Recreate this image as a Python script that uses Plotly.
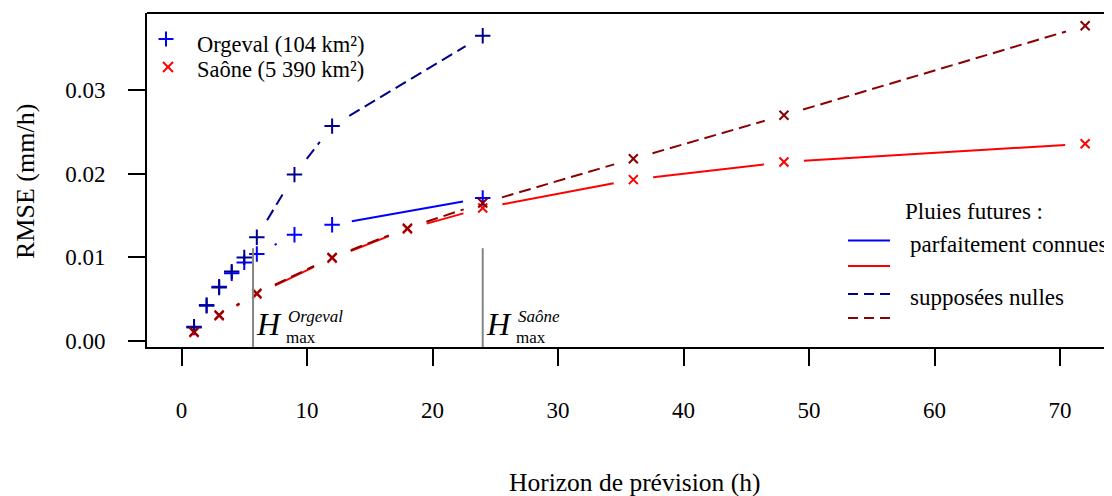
import math
import plotly.graph_objects as go

# ---------------- data ----------------
org_h = [1, 2, 3, 4, 5, 6, 9, 12, 24]
org_known = [0.0016, 0.0043, 0.0065, 0.0081, 0.0094, 0.0104, 0.0127, 0.0139, 0.0171]
org_null = [0.0017, 0.0042, 0.0064, 0.0083, 0.0100, 0.0124, 0.0199, 0.0257, 0.0365]

sao_h = [1, 3, 6, 12, 18, 24, 36, 48, 72]
sao_known = [0.0010, 0.0030, 0.0056, 0.0099, 0.0134, 0.0159, 0.0193, 0.0214, 0.0236]
sao_null = [0.0011, 0.0031, 0.0057, 0.0100, 0.0135, 0.0165, 0.0218, 0.0270, 0.0377]

hmax_names = ["Orgeval", "Saône"]
hmax_vals = [5.7, 24]
hmax_top = 0.0111

x_ticks = [0, 10, 20, 30, 40, 50, 60, 70]
y_ticks = [0.0, 0.01, 0.02, 0.03]
y_ticklabels = ["0.00", "0.01", "0.02", "0.03"]

basin_labels = ["Orgeval (104 km²)", "Saône (5 390 km²)"]
rain_title = "Pluies futures :"
rain_labels = ["parfaitement connues", "supposées nulles"]

# ---------------- layout constants ----------------
OFF = 8  # page body margin
W, H = 1104, 488
ML, MR, MT, MB = 139, 0, 5, 149
PW, PH = W - ML - MR, H - MT - MB
X_RANGE = [-2.75, 74.14]
Y_RANGE = [-0.00072, 0.03923]
FONT = "Liberation Serif"

BLUE, DBLUE, RED, DRED = "#0000FF", "#00008B", "#FF0000", "#8B0000"


def px(xp):
    return (xp - OFF - ML) / PW


def py(yp):
    return (H - MB - (yp - OFF)) / PH


def gapped(xs, ys, r=20.0):
    """Lines between points with a gap around each point (R type='b')."""
    sx = PW / (X_RANGE[1] - X_RANGE[0])
    sy = PH / (Y_RANGE[1] - Y_RANGE[0])
    ox, oy = [], []
    for i in range(len(xs) - 1):
        x0, y0 = xs[i] * sx, ys[i] * sy
        x1, y1 = xs[i + 1] * sx, ys[i + 1] * sy
        d = math.hypot(x1 - x0, y1 - y0)
        if d <= 2 * r:
            continue
        ux, uy = (x1 - x0) / d, (y1 - y0) / d
        ox += [(x0 + r * ux) / sx, (x1 - r * ux) / sx, None]
        oy += [(y0 + r * uy) / sy, (y1 - r * uy) / sy, None]
    return ox, oy


fig = go.Figure()

series = [
    (org_h, org_known, BLUE, "solid", "cross-thin", 11),
    (org_h, org_null, DBLUE, "12px,6px", "cross-thin", 11),
    (sao_h, sao_known, RED, "solid", "x-thin", 9),
    (sao_h, sao_null, DRED, "12px,6px", "x-thin", 9),
]
for xs, ys, col, dash, sym, size in series:
    lx, ly = gapped(xs, ys)
    fig.add_trace(go.Scatter(x=lx, y=ly, mode="lines", showlegend=False,
                             line=dict(color=col, width=2, dash=dash),
                             hoverinfo="skip"))
    fig.add_trace(go.Scatter(x=xs, y=ys, mode="markers", showlegend=False,
                             marker=dict(symbol=sym, size=size,
                                         line=dict(color=col, width=2))))

shapes = []
annotations = []

# vertical H_max lines and labels
for name, hv in zip(hmax_names, hmax_vals):
    shapes.append(dict(type="line", xref="x", yref="y", x0=hv, x1=hv,
                       y0=Y_RANGE[0], y1=hmax_top,
                       line=dict(color="#858585", width=2)))
    annotations.append(dict(x=hv, y=py(324), xref="x", yref="paper",
                            xanchor="left", yanchor="middle", xshift=1,
                            text="<i>H</i>", showarrow=False,
                            font=dict(family=FONT, size=32, color="black")))
    annotations.append(dict(x=hv, y=py(316), xref="x", yref="paper",
                            xanchor="left", yanchor="middle", xshift=33,
                            text="<i>" + name + "</i>", showarrow=False,
                            font=dict(family=FONT, size=17, color="black")))
    annotations.append(dict(x=hv, y=py(337), xref="x", yref="paper",
                            xanchor="left", yanchor="middle", xshift=31,
                            text="max", showarrow=False,
                            font=dict(family=FONT, size=17, color="black")))

# top border of the box
shapes.append(dict(type="line", xref="paper", yref="paper", x0=0, x1=1,
                   y0=1, y1=1, line=dict(color="black", width=2)))

# top-left legend (basins)
cx, cy, hs = 166, 39, 7.5
shapes.append(dict(type="line", xref="paper", yref="paper", x0=px(cx - hs),
                   x1=px(cx + hs), y0=py(cy), y1=py(cy), line=dict(color=BLUE, width=2)))
shapes.append(dict(type="line", xref="paper", yref="paper", x0=px(cx), x1=px(cx),
                   y0=py(cy - hs), y1=py(cy + hs), line=dict(color=BLUE, width=2)))
cx, cy, hs = 168, 67, 5
shapes.append(dict(type="line", xref="paper", yref="paper", x0=px(cx - hs),
                   x1=px(cx + hs), y0=py(cy - hs), y1=py(cy + hs), line=dict(color=RED, width=2)))
shapes.append(dict(type="line", xref="paper", yref="paper", x0=px(cx - hs),
                   x1=px(cx + hs), y0=py(cy + hs), y1=py(cy - hs), line=dict(color=RED, width=2)))
for lab, yy in zip(basin_labels, [44, 69]):
    annotations.append(dict(x=px(195), y=py(yy), xref="paper", yref="paper",
                            xanchor="left", yanchor="middle", text=lab, showarrow=False,
                            font=dict(family=FONT, size=22.5, color="black")))

# right legend (rain scenarios)
annotations.append(dict(x=px(974), y=py(211), xref="paper", yref="paper",
                        xanchor="center", yanchor="middle", text=rain_title, showarrow=False,
                        font=dict(family=FONT, size=23, color="black")))
for col, dash, yy in [(BLUE, "solid", 240.5), (RED, "solid", 266),
                      (DBLUE, "10px,6px", 294), (DRED, "10px,6px", 318)]:
    shapes.append(dict(type="line", xref="paper", yref="paper", x0=px(848), x1=px(890),
                       y0=py(yy), y1=py(yy), line=dict(color=col, width=2, dash=dash)))
for lab, yy in zip(rain_labels, [245, 297]):
    annotations.append(dict(x=px(908), y=py(yy), xref="paper", yref="paper",
                            xanchor="left", yanchor="middle", text=lab, showarrow=False,
                            font=dict(family=FONT, size=23, color="black")))

# axis titles
annotations.append(dict(x=px(634), y=py(482), xref="paper", yref="paper",
                        xanchor="center", yanchor="middle",
                        text="Horizon de prévision (h)", showarrow=False,
                        font=dict(family=FONT, size=25.5, color="black")))
annotations.append(dict(x=px(26), y=py(182), xref="paper", yref="paper",
                        xanchor="center", yanchor="middle", textangle=-90,
                        text="RMSE (mm/h)", showarrow=False,
                        font=dict(family=FONT, size=26, color="black")))

fig.update_layout(
    width=W, height=H,
    margin=dict(l=ML, r=MR, t=MT, b=MB, pad=0),
    paper_bgcolor="white", plot_bgcolor="white",
    font=dict(family=FONT, size=22, color="black"),
    shapes=shapes, annotations=annotations,
    showlegend=False,
    xaxis=dict(range=X_RANGE, tickvals=x_ticks, ticks="outside", ticklen=17,
               tickwidth=1.5, tickcolor="black", showline=True, linewidth=2,
               linecolor="black", showgrid=False, zeroline=False,
               ticklabelstandoff=24, tickfont=dict(family=FONT, size=23)),
    yaxis=dict(range=Y_RANGE, tickvals=y_ticks, ticktext=y_ticklabels,
               ticks="outside", ticklen=17, tickwidth=1.5, tickcolor="black",
               showline=True, linewidth=2, linecolor="black", showgrid=False,
               zeroline=False, ticklabelstandoff=18,
               tickfont=dict(family=FONT, size=23)),
)

fig.write_html("out.html")
